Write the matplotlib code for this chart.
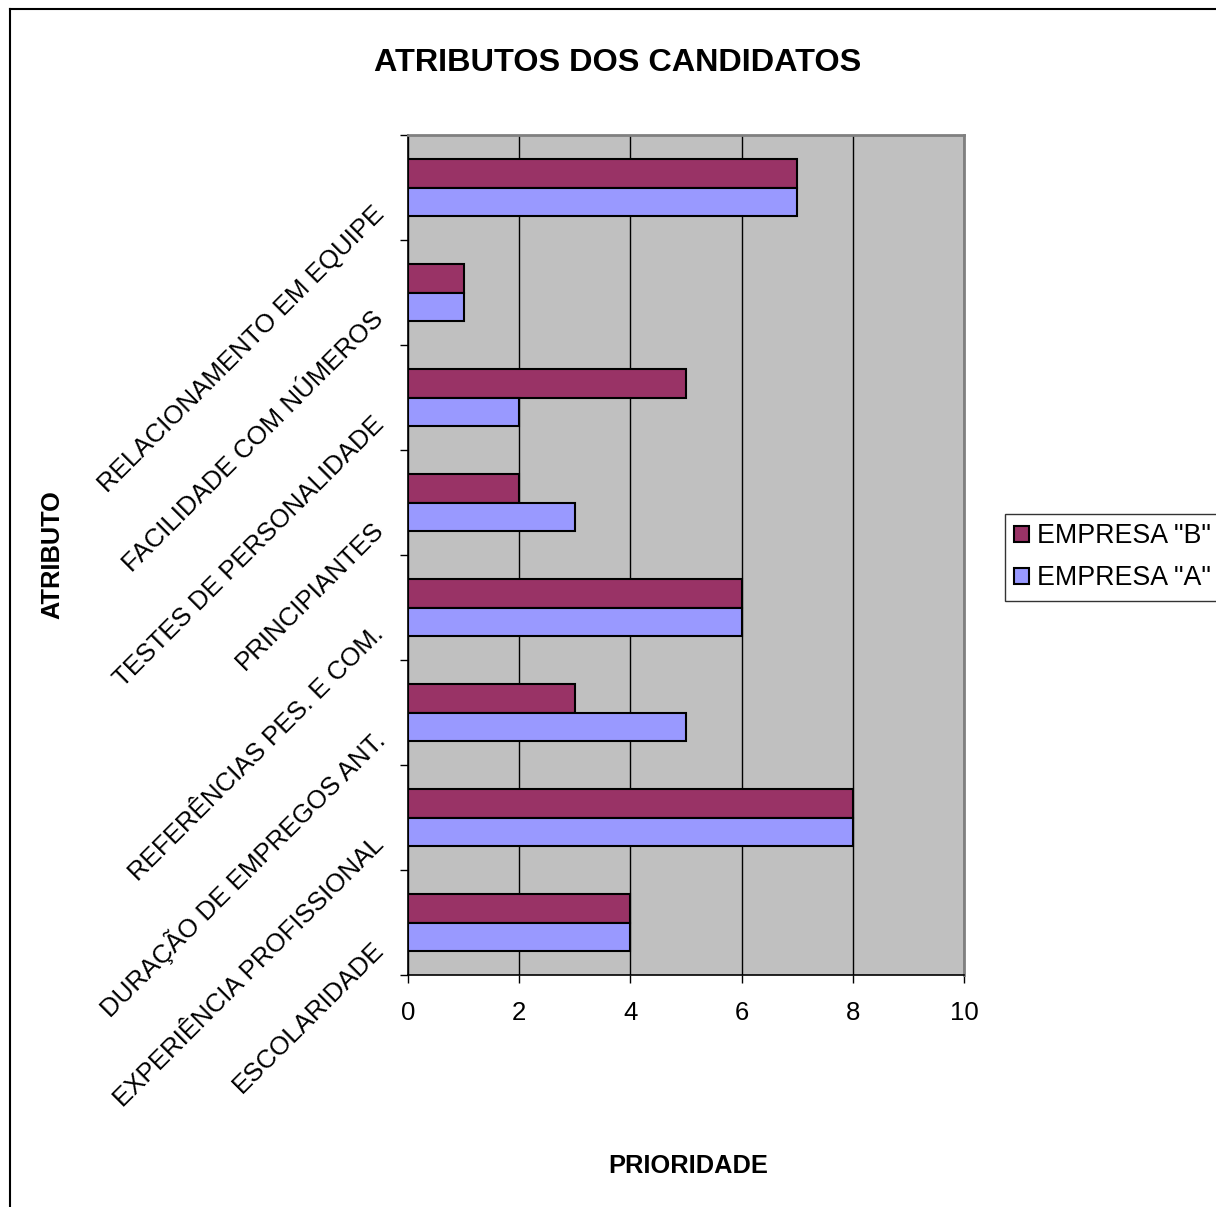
import numpy as np
import matplotlib
matplotlib.use('Agg')
import matplotlib.pyplot as plt
from matplotlib.lines import Line2D

plt.rcParams['font.family'] = ['Liberation Sans', 'DejaVu Sans']

atributos = ['ESCOLARIDADE', 'EXPERIÊNCIA PROFISSIONAL', 'DURAÇÃO DE EMPREGOS ANT.',
             'REFERÊNCIAS PES. E COM.', 'PRINCIPIANTES', 'TESTES DE PERSONALIDADE',
             'FACILIDADE COM NÚMEROS', 'RELACIONAMENTO EM EQUIPE']
empresa_b = [4, 8, 3, 6, 2, 5, 1, 7]
empresa_a = [4, 8, 5, 6, 3, 2, 1, 7]
xticks = [0, 2, 4, 6, 8, 10]

cor_b = '#993366'
cor_a = '#9999FF'

W, H = 1216, 1207
fig = plt.figure(figsize=(W / 100, H / 100), dpi=100)
ax = fig.add_axes([408 / W, 1 - 975 / H, (964 - 408) / W, (975 - 135) / H])
ax.set_facecolor('#C0C0C0')

y = np.arange(len(atributos))
h = 0.276
ax.barh(y + h / 2, empresa_b, height=h, color=cor_b, edgecolor='black', linewidth=1.5,
        label='EMPRESA "B"', zorder=3)
ax.barh(y - h / 2, empresa_a, height=h, color=cor_a, edgecolor='black', linewidth=1.5,
        label='EMPRESA "A"', zorder=3)

ax.set_xlim(0, 10)
ax.set_ylim(-0.5, len(atributos) - 0.5)
ax.set_xticks(xticks)
ax.set_xticklabels([str(v) for v in xticks], fontsize=18.5)
ax.tick_params(axis='x', direction='out', length=6, width=1, pad=13)
ax.xaxis.grid(True, color='black', linewidth=1, zorder=1)
ax.set_axisbelow(True)

# ticks at category boundaries, labels below the center
ax.set_yticks(np.arange(len(atributos) + 1) - 0.5)
ax.set_yticklabels([])
ax.tick_params(axis='y', which='major', direction='out', length=6, width=1)
ax.set_yticks(y - 0.22, minor=True)
ax.set_yticklabels(atributos, minor=True, fontsize=18.6, rotation=45,
                   rotation_mode='anchor', ha='right', va='center')
ax.tick_params(axis='y', which='minor', length=0, pad=20)

for s in ['top', 'right']:
    ax.spines[s].set_color('#808080')
    ax.spines[s].set_linewidth(2)
for s in ['left', 'bottom']:
    ax.spines[s].set_color('black')
    ax.spines[s].set_linewidth(1.2)

fig.text(618 / W, 1 - 63 / H, 'ATRIBUTOS DOS CANDIDATOS', fontsize=23.3, fontweight='bold',
         ha='center', va='center')
fig.text(688 / W, 1 - 1166 / H, 'PRIORIDADE', fontsize=18.3, fontweight='bold',
         ha='center', va='center')
fig.text(52 / W, 1 - 555 / H, 'ATRIBUTO', fontsize=18.3, fontweight='bold',
         ha='center', va='center', rotation=90)

leg = fig.legend(loc='upper left', bbox_to_anchor=(1005 / W, 1 - 514 / H), fontsize=19.3,
                 frameon=True, fancybox=False, handlelength=0.55, handleheight=0.55,
                 handletextpad=0.3, borderpad=0.35, borderaxespad=0, labelspacing=0.6)
leg.get_frame().set_edgecolor('black')
leg.get_frame().set_linewidth(1)

# outer chart border (left and top visible)
fig.add_artist(Line2D([10 / W, 10 / W], [0, 1 - 9 / H], color='black', linewidth=1.5))
fig.add_artist(Line2D([10 / W, 1], [1 - 9 / H, 1 - 9 / H], color='black', linewidth=1.5))

fig.savefig('out.png', dpi=100)
